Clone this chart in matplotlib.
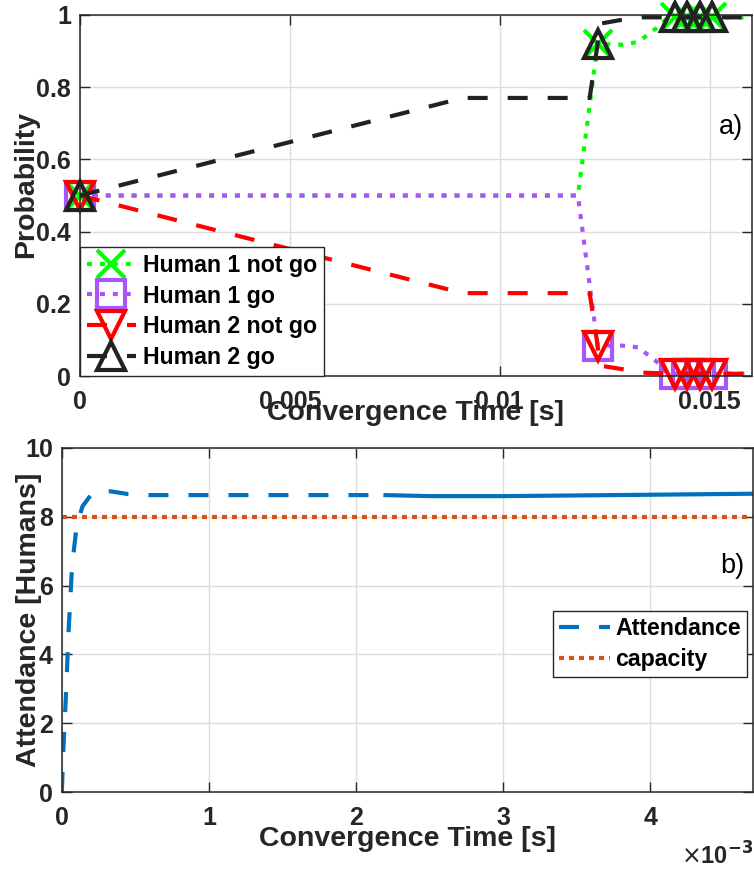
import matplotlib
matplotlib.use("Agg")
import matplotlib.pyplot as plt
from matplotlib.ticker import FormatStrFormatter

plt.rcParams['font.family'] = ['Liberation Sans', 'DejaVu Sans']

# ------------------------------------------------------------------------------
# Panel a) probabilities vs convergence time [s]
h1_notgo_t = [0.0, 0.01186, 0.01233, 0.0129, 0.0133, 0.01374, 0.01398, 0.01417, 0.01445, 0.01476, 0.01505, 0.016]
h1_notgo_p = [0.5, 0.5, 0.92, 0.917, 0.925, 0.964, 0.99, 0.993, 0.993, 0.993, 0.993, 0.993]
h1_go_t = [0.0, 0.01186, 0.01233, 0.0129, 0.0133, 0.01374, 0.01398, 0.01417, 0.01445, 0.01476, 0.01505, 0.016]
h1_go_p = [0.5, 0.5, 0.085, 0.085, 0.08, 0.04, 0.01, 0.007, 0.007, 0.007, 0.007, 0.007]
h2_notgo_t = [0.0, 0.00912, 0.01214, 0.01233, 0.01236, 0.0129, 0.0134, 0.01417, 0.01445, 0.01476, 0.01505, 0.016]
h2_notgo_p = [0.5, 0.23, 0.23, 0.085, 0.03, 0.02, 0.01, 0.007, 0.007, 0.007, 0.007, 0.007]
h2_go_t = [0.0, 0.00912, 0.01214, 0.01233, 0.01236, 0.0129, 0.0134, 0.01417, 0.01445, 0.01476, 0.01505, 0.016]
h2_go_p = [0.5, 0.77, 0.77, 0.92, 0.975, 0.986, 0.993, 0.993, 0.993, 0.993, 0.993, 0.993]
# which samples carry a marker
h1_marks = [0, 2, 7, 8, 9, 10]
h2_marks = [0, 3, 7, 8, 9, 10]

# Panel b) attendance vs convergence time [ms]
att_t_early = [0.0, 0.01, 0.03, 0.045, 0.07, 0.1, 0.14, 0.2, 0.25, 0.33, 0.45, 0.6, 1.0, 1.5, 2.2]
att_early = [0.0, 1.2, 3.0, 4.6, 6.6, 7.7, 8.3, 8.65, 8.75, 8.74, 8.66, 8.63, 8.63, 8.63, 8.63]
att_t_late = [2.2, 2.5, 3.0, 3.5, 4.0, 4.7]
att_late = [8.63, 8.60, 8.60, 8.62, 8.64, 8.67]
cap_t = [0.0, 4.7]
capacity = [8, 8]

# ------------------------------------------------------------------------------
ax_color = "#262626"
green = "#00ff00"
purple = "#aa55f5"
red = "#ff0000"
black = "#222222"
blue = "#0072bd"
orange = "#d95319"

dashed = (0, (4.8, 4.8))
dotted = (0, (1.2, 1.9))

fig = plt.figure(figsize=(7.54, 8.71), dpi=100)
ax1 = fig.add_axes([0.106, 0.568, 0.891, 0.415])
ax2 = fig.add_axes([0.082, 0.0907, 0.917, 0.395])


def style_axes(ax):
  ax.grid(True, color="#dcdcdc", lw=1.0)
  ax.set_axisbelow(True)
  for s in ax.spines.values():
    s.set_color(ax_color)
    s.set_linewidth(1.1)
  ax.tick_params(direction="in", top=True, right=True, length=7, width=1.0,
                 color=ax_color, labelcolor=ax_color, labelsize=18)
  ax.tick_params(axis="x", pad=10)
  ax.tick_params(axis="y", pad=6.5)
  for lab in ax.get_xticklabels() + ax.get_yticklabels():
    lab.set_fontweight("bold")


label_font = dict(fontsize=20.5, fontweight="bold", color=ax_color)
legend_font = dict(size=16.7, weight="bold")

mk = dict(ms=20, mew=3, mfc="none", lw=3)
ax1.plot(h1_notgo_t, h1_notgo_p, color=green, ls=dotted, marker="x", markevery=h1_marks,
         label="Human 1 not go", clip_on=False, **mk)
ax1.plot(h1_go_t, h1_go_p, color=purple, ls=dotted, marker="s", markevery=h1_marks,
         label="Human 1 go", clip_on=False, **mk)
ax1.plot(h2_notgo_t, h2_notgo_p, color=red, ls=dashed, marker="v", markevery=h2_marks,
         label="Human 2 not go", clip_on=False, **mk)
ax1.plot(h2_go_t, h2_go_p, color=black, ls=dashed, marker="^", markevery=h2_marks,
         label="Human 2 go", clip_on=False, **mk)
ax1.set_xlim(0, 0.016)
ax1.set_ylim(0, 1)
ax1.set_xticks([0, 0.005, 0.01, 0.015])
ax1.set_yticks([0, 0.2, 0.4, 0.6, 0.8, 1.0])
ax1.xaxis.set_major_formatter(FormatStrFormatter("%g"))
ax1.yaxis.set_major_formatter(FormatStrFormatter("%g"))
style_axes(ax1)
ax1.set_xlabel("Convergence Time [s]", **label_font)
ax1.xaxis.set_label_coords(0.5, -0.066)
ax1.set_ylabel("Probability", **label_font)
ax1.yaxis.set_label_coords(-0.06, 0.532)
leg = ax1.legend(loc="lower left", borderaxespad=0, fancybox=False, edgecolor=ax_color,
                 framealpha=1, prop=legend_font, handlelength=2.1,
                 handletextpad=0.3, labelspacing=0.34, borderpad=0.3)
leg.get_frame().set_linewidth(1.0)
ax1.text(0.987, 0.69, "a)", transform=ax1.transAxes, fontsize=19.5, ha="right", va="center",
         color="black")

ax2.plot(att_t_early, att_early, color=blue, ls=dashed, lw=3, label="Attendance")
ax2.plot(att_t_late, att_late, color=blue, ls="-", lw=3)
ax2.plot(cap_t, capacity, color=orange, ls=(0, (1.2, 1.2)), lw=3, label="capacity")
ax2.set_xlim(0, 4.7)
ax2.set_ylim(0, 10)
ax2.set_xticks([0, 1, 2, 3, 4])
ax2.set_yticks([0, 2, 4, 6, 8, 10])
style_axes(ax2)
ax2.set_xlabel("Convergence Time [s]", **label_font)
ax2.xaxis.set_label_coords(0.5, -0.099)
ax2.set_ylabel("Attendance [Humans]", **label_font)
ax2.yaxis.set_label_coords(-0.029, 0.5)
leg2 = ax2.legend(loc="upper right", bbox_to_anchor=(0.991, 0.526), borderaxespad=0,
                  fancybox=False, edgecolor=ax_color, framealpha=1,
                  prop=legend_font, handlelength=2.2,
                  handletextpad=0.25, labelspacing=0.34, borderpad=0.25)
leg2.get_frame().set_linewidth(1.0)
ax2.text(0.987, 0.657, "b)", transform=ax2.transAxes, fontsize=19.5, ha="right", va="center",
         color="black")
ax2.text(1.0, -0.186, r"$\times$" + "10" + r"$^{\mathbf{-3}}$", transform=ax2.transAxes,
         fontsize=17, ha="right", va="center", color=ax_color, fontweight="bold")

fig.savefig("out.png", dpi=100)
plt.close(fig)
